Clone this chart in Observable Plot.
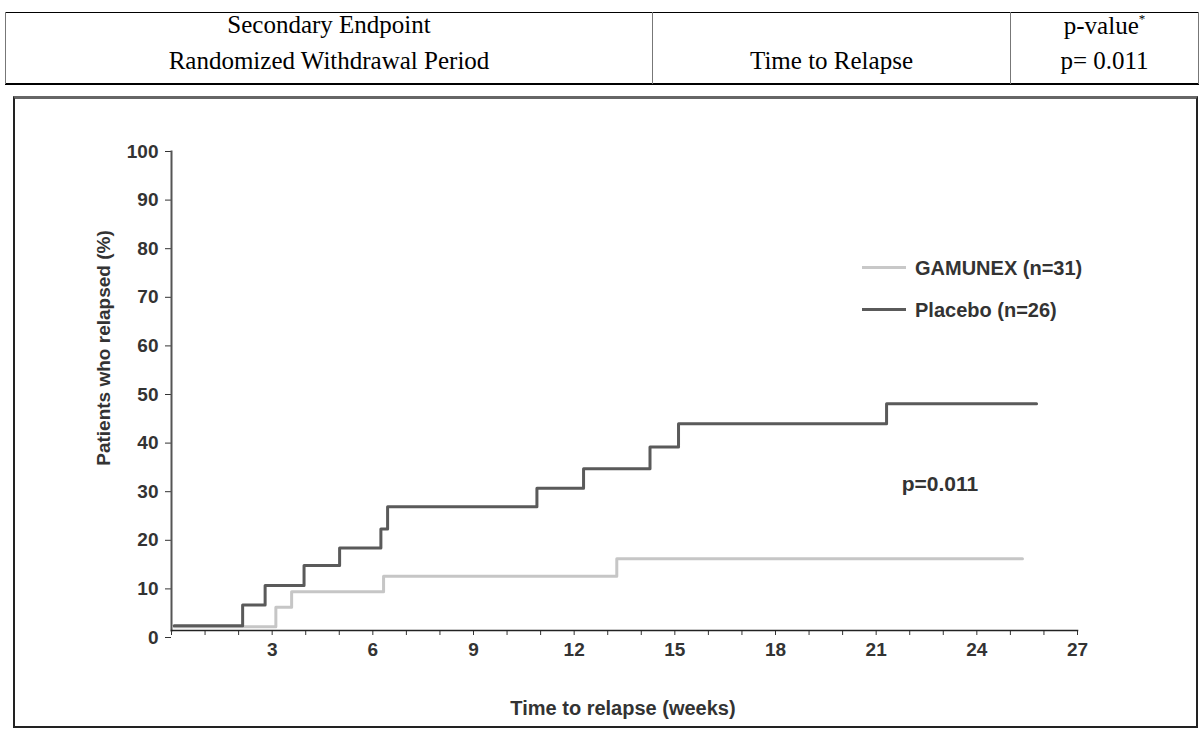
<!DOCTYPE html>
<html>
<head>
<meta charset="utf-8">
<script src="https://cdn.jsdelivr.net/npm/d3@7"></script>
<script src="https://cdn.jsdelivr.net/npm/@observablehq/plot@0.6"></script>
<style>
  html, body { margin: 0; padding: 0; background: #fff; }
  body { width: 1202px; height: 729px; position: relative; overflow: hidden; }
  .serif { font-family: "Liberation Serif", "Times New Roman", serif; font-size: 25px; color: #000; position: absolute; text-align: center; line-height: 1; }
  .hline { position: absolute; background: #000; }
  .vline { position: absolute; background: #777; width: 1px; }
  .sans { font-family: "Liberation Sans", Arial, sans-serif; font-weight: bold; color: #333; position: absolute; white-space: nowrap; line-height: 1; }
  #box { position: absolute; left: 13px; top: 96px; width: 1181px; height: 627px; border: 2px solid #222; border-top: 3px solid #666; box-sizing: content-box; }
  #chart { position: absolute; left: 14px; top: 98px; }
  .leg { position: absolute; height: 3px; width: 44px; }
</style>
</head>
<body>
<!-- header table -->
<div class="hline" style="left:5px; top:12px; width:1194px; height:1px;"></div>
<div class="hline" style="left:5px; top:83px; width:1194px; height:2px;"></div>
<div class="vline" style="left:5px; top:12px; height:72px;"></div>
<div class="vline" style="left:652px; top:12px; height:72px;"></div>
<div class="vline" style="left:1010px; top:12px; height:72px;"></div>
<div class="vline" style="left:1198px; top:12px; height:72px;"></div>

<div class="serif" style="left:6px; width:646px; top:12px;">Secondary Endpoint</div>
<div class="serif" style="left:6px; width:646px; top:48px;">Randomized Withdrawal Period</div>
<div class="serif" style="left:653px; width:357px; top:48px;">Time to Relapse</div>
<div class="serif" style="left:1011px; width:187px; top:12px;">p-value<sup style="font-size:13px; vertical-align: 11px;">*</sup></div>
<div class="serif" style="left:1011px; width:187px; top:48px;">p= 0.011</div>

<div id="box"></div>
<div id="chart"></div>

<!-- legend -->
<div class="leg" style="left:862px; top:266px; background:#c8c8c8;"></div>
<div class="sans" style="left:915px; top:258px; font-size:20px;">GAMUNEX (n=31)</div>
<div class="leg" style="left:862px; top:308px; background:#5a5a5a;"></div>
<div class="sans" style="left:915px; top:300px; font-size:20px;">Placebo (n=26)</div>

<!-- axis titles -->
<div class="sans" style="left:103px; top:348px; font-size:19px; transform: translate(-50%,-50%) rotate(-90deg);">Patients who relapsed (%)</div>
<div class="sans" style="left:623px; top:708px; font-size:20px; transform: translate(-50%,-50%);">Time to relapse (weeks)</div>

<script>
// ---- data ----
const placeboWeeks = [0.08, 2.12, 2.79, 3.95, 5.01, 6.24, 6.44, 10.89, 12.28, 14.26, 15.11, 21.31, 25.78];
const placeboPct   = [2.4, 6.7, 10.7, 14.8, 18.4, 22.3, 26.9, 30.7, 34.7, 39.2, 44.0, 48.1, 48.1];
const gamunexWeeks = [0.08, 3.11, 3.58, 6.32, 13.27, 25.36];
const gamunexPct   = [2.2, 6.2, 9.4, 12.6, 16.2, 16.2];

const xDomain = [0, 27];
const yDomain = [0, 100];
const xTicks = d3.range(0, 28, 1);
const xLabelEvery = 3;
const yTicks = d3.range(0, 101, 10);

const annotation = [{week: 22.9, pct: 31.6, text: "p=0.011"}];

const placebo = placeboWeeks.map((w, i) => ({week: w, pct: placeboPct[i]}));
const gamunex = gamunexWeeks.map((w, i) => ({week: w, pct: gamunexPct[i]}));

const chart = Plot.plot({
  width: 1182,
  height: 627,
  marginLeft: 157,
  marginRight: 119,
  marginTop: 53,
  marginBottom: 95,
  x: {domain: xDomain},
  y: {domain: yDomain, insetBottom: -7},
  style: {
    fontFamily: "'Liberation Sans', Arial, sans-serif",
    fontSize: "19px",
    fontWeight: "bold",
    color: "#333",
    background: "transparent",
    overflow: "visible"
  },
  marks: [
    Plot.axisY({ticks: yTicks, tickSize: 6, tickPadding: 7, label: null, fontSize: 19, fontWeight: "bold"}),
    Plot.axisX({ticks: xTicks, tickSize: 5, tickPadding: 7, label: null, fontSize: 19, fontWeight: "bold",
      tickFormat: d => (d > 0 && d % xLabelEvery === 0) ? String(d) : ""}),
    Plot.frame({anchor: "left", stroke: "#555", strokeWidth: 2}),
    Plot.frame({anchor: "bottom", stroke: "#222", strokeWidth: 1.5}),
    Plot.line(gamunex, {x: "week", y: "pct", curve: "step-after", stroke: "#c6c6c6", strokeWidth: 3}),
    Plot.line(placebo, {x: "week", y: "pct", curve: "step-after", stroke: "#5a5a5a", strokeWidth: 3}),
    Plot.text(annotation, {x: "week", y: "pct", text: "text", fontSize: 21, fontWeight: "bold", fill: "#333"})
  ]
});
document.getElementById("chart").append(chart);
</script>
</body>
</html>
